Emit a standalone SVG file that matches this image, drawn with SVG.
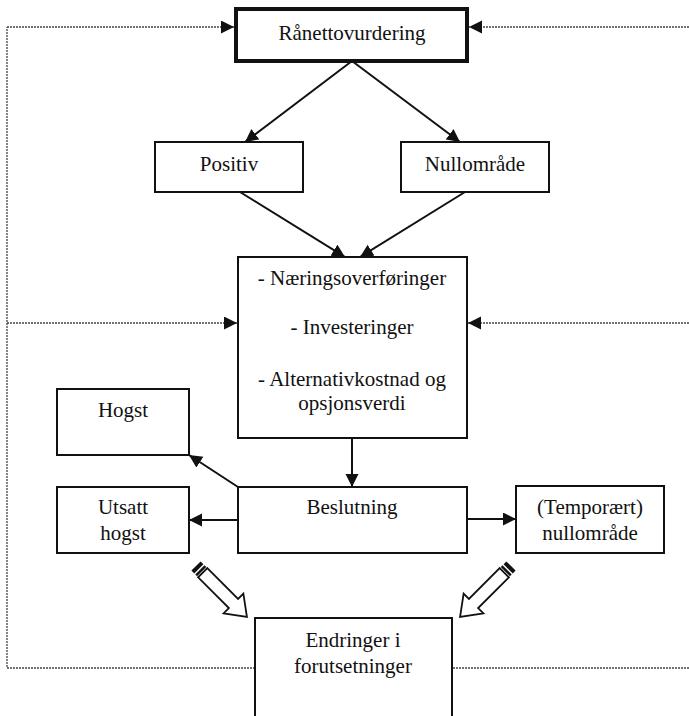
<svg xmlns="http://www.w3.org/2000/svg" xmlns:xlink="http://www.w3.org/1999/xlink" width="689" height="716" viewBox="0 0 689 716">
<style>
  .box{fill:#fff;stroke:#111;stroke-width:2}
  .thick{fill:#fff;stroke:#111;stroke-width:4}
  .t{font-family:"Liberation Serif","Times New Roman",serif;font-size:21px;fill:#111;text-anchor:middle}
  .solid{fill:none;stroke:#111;stroke-width:2;marker-end:url(#ah)}
  .dot{fill:none;stroke:#444;stroke-width:1.3;stroke-dasharray:2 1}
  .dota{fill:none;stroke:#444;stroke-width:1.3;stroke-dasharray:2 1;marker-end:url(#ah)}
</style>
<defs>
  <marker id="ah" markerUnits="userSpaceOnUse" markerWidth="14" markerHeight="14" refX="13" refY="6.5" orient="auto">
    <path d="M0,0 L13,6.5 L0,13 z" fill="#111"/>
  </marker>
  <g id="blk">
    <rect x="0" y="-6.5" width="4" height="13" fill="#111"/>
    <rect x="5.5" y="-6.5" width="2.5" height="13" fill="#111"/>
    <polygon points="9.5,-6.5 53,-6.5 53,-14 72,0 53,14 53,6.5 9.5,6.5" fill="#fff" stroke="#111" stroke-width="1.8" stroke-linejoin="miter"/>
  </g>
</defs>
<rect width="689" height="716" fill="#fff"/>
<g id="connectors">
  <path class="dot" d="M255,668 H7 V27"/>
  <path class="dota" d="M7,27 H234"/>
  <path class="dota" d="M7,323 H237"/>
  <path class="dot" d="M453,668 H689"/>
  <path class="dota" d="M689,27 H469"/>
  <path class="dota" d="M689,323 H468"/>
  <path class="solid" d="M352,61 L245,142"/>
  <path class="solid" d="M352,61 L460,142"/>
  <path class="solid" d="M240,192 L345,257"/>
  <path class="solid" d="M465,192 L360,257"/>
  <path class="solid" d="M352,438 L352,487"/>
  <path class="solid" d="M238,487 L189,455"/>
  <path class="solid" d="M238,520 L189,520"/>
  <path class="solid" d="M467,519 L516,519"/>
  <use xlink:href="#blk" href="#blk" transform="translate(196,566) rotate(45)"/>
  <use xlink:href="#blk" href="#blk" transform="translate(511,566) rotate(135)"/>
</g>
<g id="ranetto">
  <rect class="thick" x="236" y="9" width="231" height="52"/>
  <text class="t" x="352" y="40">Rånettovurdering</text>
</g>
<g id="positiv">
  <rect class="box" x="155" y="142" width="148" height="50"/>
  <text class="t" x="229" y="171">Positiv</text>
</g>
<g id="nullomrade">
  <rect class="box" x="401" y="142" width="148" height="50"/>
  <text class="t" x="475" y="171">Nullområde</text>
</g>
<g id="faktorer">
  <rect class="box" x="238" y="257" width="229" height="181"/>
  <text class="t" x="352" y="285">- Næringsoverføringer</text>
  <text class="t" x="352" y="334">- Investeringer</text>
  <text class="t" x="352" y="386">- Alternativkostnad og</text>
  <text class="t" x="352" y="410">opsjonsverdi</text>
</g>
<g id="hogst">
  <rect class="box" x="57" y="389" width="132" height="66"/>
  <text class="t" x="123" y="417">Hogst</text>
</g>
<g id="beslutning">
  <rect class="box" x="238" y="487" width="229" height="66"/>
  <text class="t" x="352" y="514">Beslutning</text>
</g>
<g id="utsatt">
  <rect class="box" x="57" y="487" width="132" height="66"/>
  <text class="t" x="123" y="514">Utsatt</text>
  <text class="t" x="123" y="540">hogst</text>
</g>
<g id="temporaert">
  <rect class="box" x="516" y="486" width="148" height="67"/>
  <text class="t" x="590" y="514">(Temporært)</text>
  <text class="t" x="590" y="540">nullområde</text>
</g>
<g id="endringer">
  <rect class="box" x="255" y="618" width="197" height="110"/>
  <text class="t" x="353" y="647">Endringer i</text>
  <text class="t" x="353" y="673">forutsetninger</text>
</g>
</svg>
